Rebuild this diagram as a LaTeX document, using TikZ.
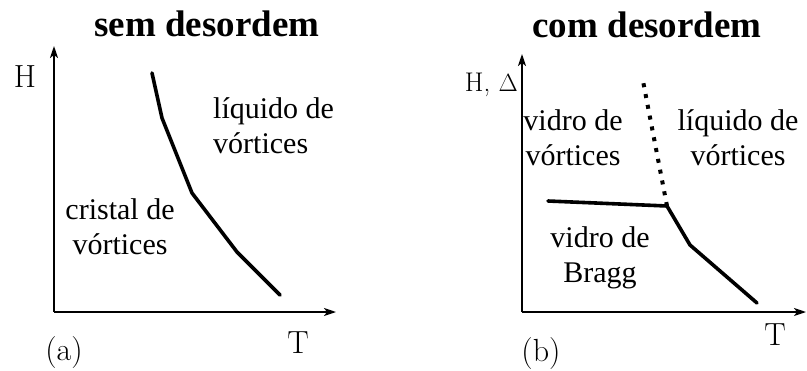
\documentclass[tikz,border=0pt]{standalone}
\usepackage{fontspec}
\newfontfamily\tnr{Liberation Serif}
\usetikzlibrary{arrows.meta}
\tikzset{
  axis/.style   ={-{Stealth[length=12pt,width=8pt,inset=3pt]}, line width=1.6pt},
  phase/.style  ={line width=3.6pt, line join=round, line cap=round},
  glassline/.style={line width=4pt, dash pattern=on 4pt off 7pt},
  region/.style ={font=\tnr\fontsize{30}{35}\selectfont, align=center, anchor=base, inner sep=0pt},
  paneltitle/.style={font=\tnr\bfseries\fontsize{37}{44}\selectfont, anchor=base, inner sep=0pt},
  axlabel/.style={font=\fontsize{32}{36}\selectfont, anchor=base, inner sep=0pt},
}
\begin{document}
\begin{tikzpicture}[x=1pt,y=-1pt]
\useasboundingbox (0,0) rectangle (807,370);
% --- panel (a): sem desordem ---
\node[paneltitle] (ta) at (207,36) {sem desordem};
\coordinate (oa) at (54,312);
\coordinate (ya) at (54,46);
\coordinate (xa) at (336,312);
\draw[axis] (oa) -- (ya);
\draw[axis] (oa) -- (xa);
\node[axlabel] (ha) at (25,87) {H};
\node[axlabel] (Ta) at (298,353) {T};
\node[axlabel] (la) at (64,360) {(a)};
\coordinate (a1) at (152,73);
\coordinate (a2) at (162,118);
\coordinate (a3) at (192,193);
\coordinate (a4) at (237,252);
\coordinate (a5) at (280,295);
\draw[phase] (a1) -- (a2) -- (a3) -- (a4) -- (a5);
\node[region, align=left, anchor=base west] (liqa) at (213,153) {líquido de\\vórtices};
\node[region] (cri) at (120,254) {cristal de\\vórtices};
% --- panel (b): com desordem ---
\node[paneltitle] (tb) at (647,37) {com desordem};
\coordinate (ob) at (522,312);
\coordinate (yb) at (522,54);
\coordinate (xb) at (806,312);
\draw[axis] (ob) -- (yb);
\draw[axis] (ob) -- (xb);
\node[axlabel, font=\fontsize{27}{32}\selectfont, anchor=base east] (hb) at (518,91) {H, $\Delta$};
\node[axlabel] (Tb) at (775,345) {T};
\node[axlabel] (lb) at (541,361) {(b)};
\coordinate (b0) at (548,201);
\coordinate (bj) at (667,206);
\coordinate (b2) at (690,245);
\coordinate (b3) at (757,303);
\coordinate (bt) at (643,81);
\draw[phase] (b0) -- (bj) -- (b2) -- (b3);
\draw[glassline] (bj) -- (bt);
\node[region] (vvo) at (573,165) {vidro de\\vórtices};
\node[region] (liqb) at (738,165) {líquido de\\vórtices};
\node[region] (bra) at (600,282) {vidro de\\Bragg};
\end{tikzpicture}
\end{document}
